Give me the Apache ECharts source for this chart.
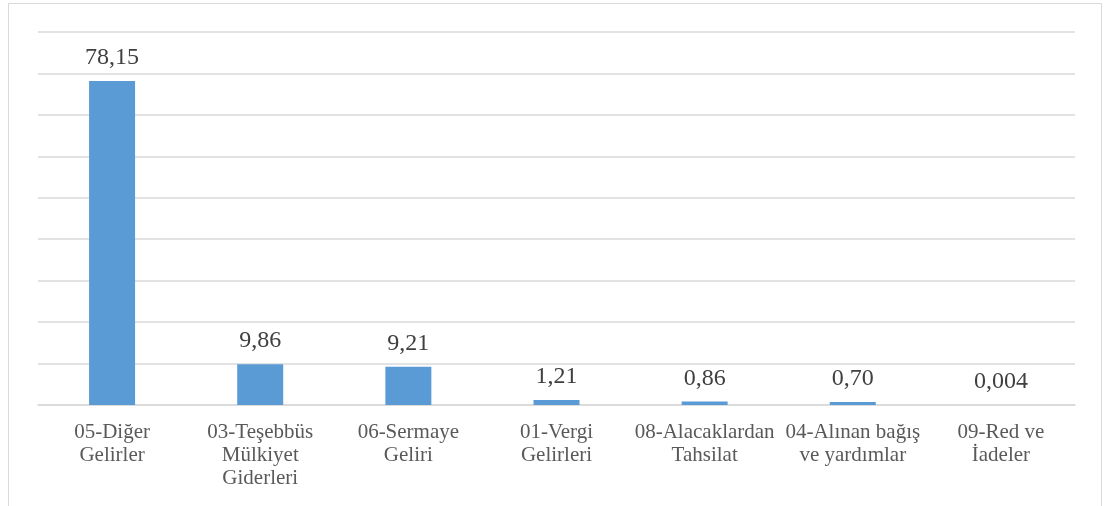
<!DOCTYPE html>
<html>
<head>
<meta charset="utf-8">
<script src="https://cdn.jsdelivr.net/npm/echarts@6/dist/echarts.min.js"></script>
<style>
  html, body { margin: 0; padding: 0; background: #fff; }
  #main { width: 1105px; height: 506px; }
</style>
</head>
<body>
<div id="main"></div>
<script>
var categories = ['05-Diğer\nGelirler', '03-Teşebbüs\nMülkiyet\nGiderleri', '06-Sermaye\nGeliri',
  '01-Vergi\nGelirleri', '08-Alacaklardan\nTahsilat', '04-Alınan bağış\nve yardımlar', '09-Red ve\nİadeler'];
var values = [78.15, 9.86, 9.21, 1.21, 0.86, 0.70, 0.004];
var valueLabels = ['78,15', '9,86', '9,21', '1,21', '0,86', '0,70', '0,004'];

var serif = '"Liberation Serif", "Times New Roman", serif';
var myChart = echarts.init(document.getElementById('main'));

var option = {
    animation: false,
    graphic: [{
        type: 'rect',
        shape: { x: 8.5, y: 3.5, width: 1093, height: 520 },
        style: { fill: 'none', stroke: '#d9d9d9', lineWidth: 1 },
        silent: true
    }],
    grid: { left: 38, right: 30, top: 32, bottom: 101 },
    xAxis: {
        type: 'category',
        data: categories,
        axisLine: { lineStyle: { color: '#d9d9d9', width: 1.5 } },
        axisTick: { show: false },
        axisLabel: {
            interval: 0,
            margin: 16,
            color: '#595959',
            fontFamily: serif,
            fontSize: 21,
            lineHeight: 23
        }
    },
    yAxis: {
        type: 'value',
        min: 0,
        max: 90,
        interval: 10,
        axisLabel: { show: false },
        axisLine: { show: false },
        axisTick: { show: false },
        splitLine: { lineStyle: { color: '#d9d9d9', width: 1.5 } }
    },
    series: [{
        type: 'bar',
        data: values,
        barWidth: 46,
        itemStyle: { color: '#5b9bd5' },
        label: {
            show: true,
            position: 'top',
            distance: 11,
            color: '#404040',
            fontFamily: serif,
            fontSize: 24,
            formatter: function (p) { return valueLabels[p.dataIndex]; }
        }
    }]
};

myChart.setOption(option);
</script>
</body>
</html>
